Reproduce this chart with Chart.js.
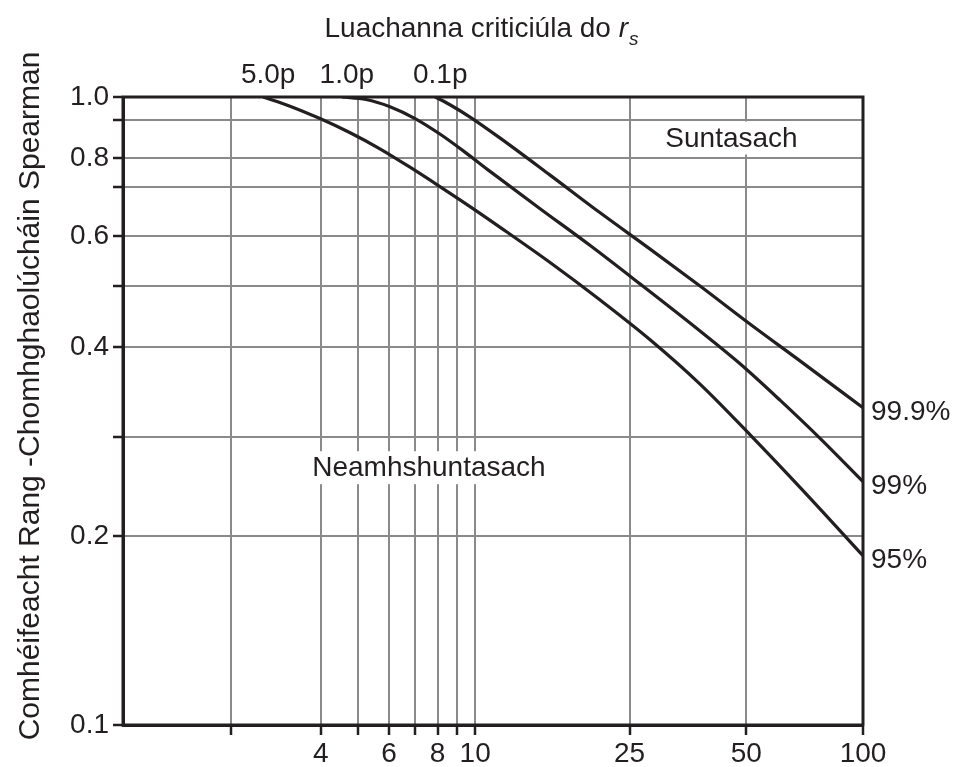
<!DOCTYPE html>
<html><head><meta charset="utf-8">
<script src="https://cdn.jsdelivr.net/npm/chart.js@4/dist/chart.umd.min.js"></script>
<style>html,body{margin:0;padding:0;background:#fff}#wrap{width:959px;height:767px}</style>
</head><body><div id="wrap"><canvas id="c" width="959" height="767"></canvas></div>
<script>
// ---- data (n = sample size, r = critical r_s) ----
const n95  = [2.84, 3.33, 3.98, 4.76, 5.68, 6.79, 8.11, 9.70, 11.6, 15.6, 21.0, 28.2, 38.0, 51.1, 68.8, 100];
const r95  = [1.0, 0.967, 0.924, 0.877, 0.827, 0.773, 0.720, 0.669, 0.620, 0.545, 0.475, 0.411, 0.349, 0.290, 0.239, 0.186];
const n99  = [4.53, 5.23, 6.03, 7.00, 8.11, 9.41, 10.9, 14.7, 19.8, 26.6, 38.0, 48.2, 61.1, 77.5, 100];
const r99  = [1.0, 0.991, 0.965, 0.924, 0.873, 0.817, 0.762, 0.664, 0.580, 0.504, 0.424, 0.376, 0.329, 0.286, 0.244];
const n999 = [7.89, 8.61, 9.70, 11.6, 15.6, 21.0, 28.2, 38.0, 51.1, 68.8, 100];
const r999 = [1.0, 0.972, 0.929, 0.860, 0.751, 0.654, 0.573, 0.500, 0.435, 0.380, 0.320];

const seriesLabels = ['95%', '99%', '99.9%'];
const levelLabels  = ['5.0p', '1.0p', '0.1p'];

const xTicks      = [2.35, 4, 5, 6, 7, 8, 9, 10, 25, 50, 100];
const xTickLabels = ['', '4', '', '6', '', '8', '', '10', '25', '50', '100'];
const yTicks      = [0.1, 0.2, 0.288, 0.4, 0.5, 0.6, 0.72, 0.8, 0.92, 1.0];
const yTickLabels = ['0.1', '0.2', '', '0.4', '', '0.6', '', '0.8', '', '1.0'];

const titleMain = 'Luachanna criticiúla do ';
const titleVar = 'r';
const titleSub = 's';
const yTitle = 'Comhéifeacht Rang -Chomhghaolúcháin Spearman';
const regionTexts = ['Suntasach', 'Neamhshuntasach'];

// ---- chart ----
const FONT = "'Liberation Sans', Arial, Helvetica, sans-serif";
const INK = '#231f20';
const GRID = '#8a8a8a';
const toPts = (ns, rs) => ns.map((n, i) => ({ x: n, y: rs[i] }));
const lineStyle = { borderColor: INK, borderWidth: 3.2, pointRadius: 0, fill: false, cubicInterpolationMode: 'monotone' };

const annot = {
  id: 'annot',
  beforeDatasetsDraw(chart, args, opts) {
    const { ctx } = chart;
    const xs = chart.scales.x, ys = chart.scales.y;
    ctx.save();
    ctx.font = `28px ${FONT}`;
    opts.regions.forEach(rg => {
      const w = ctx.measureText(rg.text).width;
      const cx = xs.getPixelForValue(rg.n);
      const by = ys.getPixelForValue(rg.r);
      ctx.fillStyle = '#fff';
      ctx.fillRect(cx - w / 2 - 6, by - 25, w + 12, 33);
    });
    ctx.restore();
  },
  afterDatasetsDraw(chart, args, opts) {
    const { ctx, chartArea: a } = chart;
    const xs = chart.scales.x, ys = chart.scales.y;
    ctx.save();
    // frame
    ctx.strokeStyle = INK; ctx.lineWidth = 3;
    ctx.strokeRect(a.left, a.top, a.right - a.left, a.bottom - a.top);
    ctx.fillStyle = INK;
    ctx.font = `28px ${FONT}`;
    // region texts
    ctx.textAlign = 'center'; ctx.textBaseline = 'alphabetic';
    opts.regions.forEach(rg => {
      ctx.fillText(rg.text, xs.getPixelForValue(rg.n), ys.getPixelForValue(rg.r));
    });
    // series end labels and level labels
    chart.data.datasets.forEach((ds, i) => {
      const first = ds.data[0], last = ds.data[ds.data.length - 1];
      ctx.textAlign = 'left';
      ctx.fillText(seriesLabels[i], a.right + 8, ys.getPixelForValue(last.y) + 12);
      ctx.textAlign = 'center';
      ctx.fillText(levelLabels[i], xs.getPixelForValue(first.x) + 5, a.top - 14);
    });
    // title with italic r and subscript s
    const f1 = `28px ${FONT}`, f2 = `italic 28px ${FONT}`, f3 = `italic 19px ${FONT}`;
    ctx.font = f1; const w1 = ctx.measureText(titleMain).width;
    ctx.font = f2; const w2 = ctx.measureText(titleVar).width;
    ctx.font = f3; const w3 = ctx.measureText(titleSub).width;
    let x0 = opts.titleX - (w1 + w2 + w3) / 2;
    const by = opts.titleY;
    ctx.textAlign = 'left';
    ctx.font = f1; ctx.fillText(titleMain, x0, by); x0 += w1;
    ctx.font = f2; ctx.fillText(titleVar, x0, by); x0 += w2 + 1;
    ctx.font = f3; ctx.fillText(titleSub, x0, by + 8);
    // y-axis title (rotated)
    ctx.translate(opts.yTitleX, opts.yTitleY);
    ctx.rotate(-Math.PI / 2);
    ctx.font = `30px ${FONT}`;
    ctx.textAlign = 'center'; ctx.textBaseline = 'middle';
    ctx.fillText(yTitle, 0, 0);
    ctx.restore();
  }
};

new Chart(document.getElementById('c'), {
  type: 'line',
  data: {
    datasets: [
      Object.assign({ label: seriesLabels[0], data: toPts(n95, r95) }, lineStyle),
      Object.assign({ label: seriesLabels[1], data: toPts(n99, r99) }, lineStyle),
      Object.assign({ label: seriesLabels[2], data: toPts(n999, r999) }, lineStyle)
    ]
  },
  options: {
    responsive: false, animation: false, devicePixelRatio: 1,
    layout: { padding: { top: 97, right: 96, left: 0, bottom: 0 } },
    plugins: {
      legend: { display: false }, tooltip: { enabled: false }, title: { display: false },
      annot: {
        titleX: 481, titleY: 37, yTitleX: 31, yTitleY: 396,
        regions: [ { text: regionTexts[0], n: 45.8, r: 0.834 }, { text: regionTexts[1], n: 7.6, r: 0.249 } ]
      }
    },
    scales: {
      x: {
        type: 'logarithmic', min: 1.2357, max: 100, bounds: 'data',
        afterBuildTicks: s => { s.ticks = xTicks.map(v => ({ value: v })); },
        afterFit: s => { s.height = 42; },
        ticks: { autoSkip: false, maxRotation: 0, minRotation: 0, padding: 2, color: INK,
                 font: { family: FONT, size: 28 }, callback: (v, i) => xTickLabels[i] },
        grid: { color: GRID, lineWidth: 2, tickLength: 10, tickColor: INK, tickWidth: 2.5 },
        border: { display: true, color: INK, width: 3 }
      },
      y: {
        type: 'logarithmic', min: 0.1, max: 1.0, bounds: 'data',
        afterBuildTicks: s => { s.ticks = yTicks.map(v => ({ value: v })); },
        afterFit: s => { s.width = 123; },
        ticks: { autoSkip: false, padding: 4, color: INK,
                 font: { family: FONT, size: 28 }, callback: (v, i) => yTickLabels[i] },
        grid: { color: GRID, lineWidth: 2, tickLength: 10, tickColor: INK, tickWidth: 2.5 },
        border: { display: true, color: INK, width: 3 },
        title: { display: false }
      }
    }
  },
  plugins: [annot]
});
</script>
</body></html>
